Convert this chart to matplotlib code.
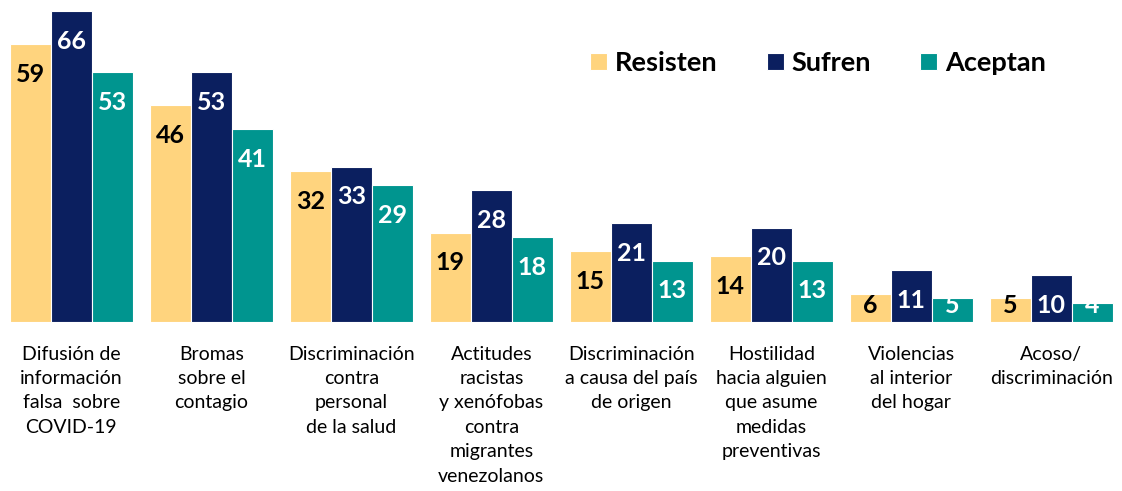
import matplotlib
matplotlib.use("Agg")
import matplotlib.pyplot as plt
import numpy as np

categories = [
    "Difusión de\ninformación\nfalsa  sobre\nCOVID-19",
    "Bromas\nsobre el\ncontagio",
    "Discriminación\ncontra\npersonal\nde la salud",
    "Actitudes\nracistas\ny xenófobas\ncontra\nmigrantes\nvenezolanos",
    "Discriminación\na causa del país\nde origen",
    "Hostilidad\nhacia alguien\nque asume\nmedidas\npreventivas",
    "Violencias\nal interior\ndel hogar",
    "Acoso/\ndiscriminación",
]
series_names = ["Resisten", "Sufren", "Aceptan"]
resisten = [59, 46, 32, 19, 15, 14, 6, 5]
sufren = [66, 53, 33, 28, 21, 20, 11, 10]
aceptan = [53, 41, 29, 18, 13, 13, 5, 4]

colors = ["#FFD47E", "#0B1F5F", "#00958F"]
label_colors = ["black", "white", "white"]

plt.rcParams["font.family"] = ["Lato", "DejaVu Sans"]

fig = plt.figure(figsize=(11.22, 4.91), dpi=100)
ax = fig.add_axes([0, (491 - 322) / 491, 1, 322 / 491])

x = np.arange(len(categories))
w = 41 / 140
data = [resisten, sufren, aceptan]
handles = []
for i, (vals, c, lc, name) in enumerate(zip(data, colors, label_colors, series_names)):
    pos = x + (i - 1) * w
    b = ax.bar(pos, vals, width=w, color=c, edgecolor="white", linewidth=0.8, label=name)
    handles.append(b)
    for p, v in zip(pos, vals):
        y = max(v - 6.4, 3.4)
        ax.text(p, y, str(v), ha="center", va="center", fontsize=18,
                fontweight="bold", color=lc)

ax.set_xlim(-0.51, -0.51 + 1122 / 140)
ax.set_ylim(0, 322 / 4.71)
ax.axis("off")

for xi, cat in zip(x, categories):
    ax.annotate(cat, xy=(xi, 0), xytext=(0, -17), textcoords="offset points",
                ha="center", va="top", fontsize=14, linespacing=1.53, color="black")

leg = ax.legend(handles=handles, labels=series_names, loc="center left",
                bbox_to_anchor=(590 / 1122, 1 - 63 / 322), ncol=3, frameon=False,
                prop={"size": 19.5, "weight": "bold"}, handlelength=0.63,
                handleheight=0.63, handletextpad=0.3, columnspacing=1.8,
                borderpad=0, borderaxespad=0)

fig.savefig("out.png", dpi=100)
